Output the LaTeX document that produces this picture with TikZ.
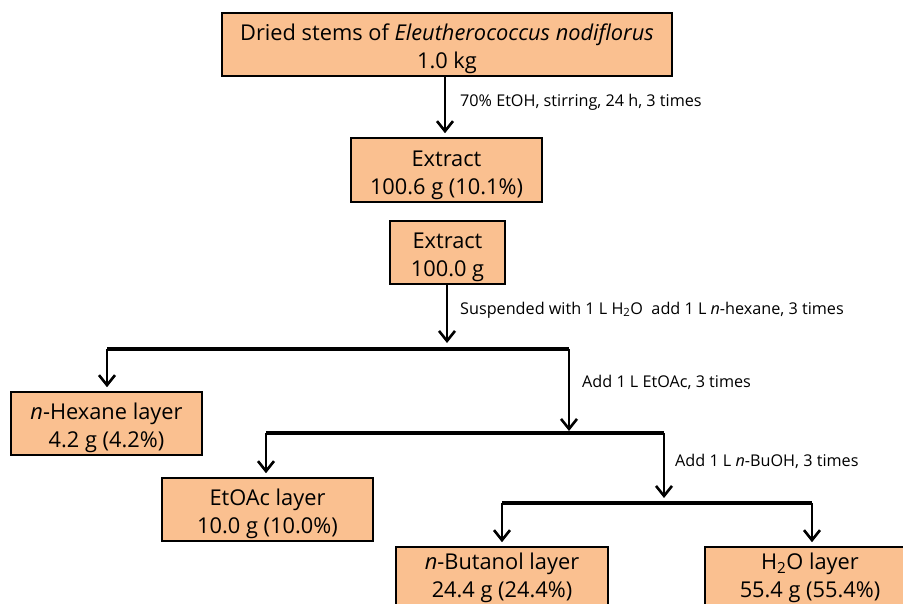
\documentclass[tikz,border=0pt]{standalone}
\usepackage{fontspec}
\setmainfont{Open Sans}
\usetikzlibrary{arrows.meta}
\definecolor{boxfill}{HTML}{FAC090}
\newcommand{\toprl}{\rule{0pt}{26.6pt}}
\newcommand{\toprlb}{\rule{0pt}{16.6pt}}
\newcommand{\botrl}{\rule[-6pt]{0pt}{6pt}}
\tikzset{
  stepbox/.style={draw=black, line width=1.6pt, fill=boxfill, align=center, inner sep=0pt,
    font=\fontsize{21.8}{28}\selectfont},
  flow/.style={line width=2.6pt, -{Straight Barb[length=10pt,width=16pt,line width=2.6pt]}},
  bar/.style={line width=3.4pt},
  note/.style={anchor=west, inner sep=0pt, font=\fontsize{16.2}{18}\selectfont}
}
\begin{document}
\begin{tikzpicture}[x=1pt,y=-1pt]
\useasboundingbox (0,0) rectangle (903,604);
\clip (0,0) rectangle (903,604);
\node[stepbox, minimum width=450pt, minimum height=63pt] (top) at (447,44.5)
  {\toprl Dried stems of \textit{Eleutherococcus nodiflorus}\\1.0 kg\botrl};
\node[stepbox, minimum width=191pt, minimum height=64pt] (ex1) at (446.5,170)
  {\toprl Extract\\100.6 g (10.1\%)\botrl};
\node[stepbox, minimum width=115pt, minimum height=63pt] (ex2) at (447.5,252.5)
  {\toprl Extract\\100.0 g\botrl};
\node[stepbox, minimum width=191pt, minimum height=63pt] (hex) at (106.5,423.5)
  {\toprl\textit{n}-Hexane layer\\4.2 g (4.2\%)\botrl};
\node[stepbox, minimum width=211pt, minimum height=63pt] (eto) at (267.5,509.5)
  {\toprl EtOAc layer\\10.0 g (10.0\%)\botrl};
\node[stepbox, minimum width=212pt, minimum height=63pt] (but) at (502,578.5)
  {\toprlb\textit{n}-Butanol layer\\24.4 g (24.4\%)\botrl};
\node[stepbox, minimum width=210pt, minimum height=63pt] (wat) at (810,578.5)
  {\toprlb H\textsubscript{2}O layer\\55.4 g (55.4\%)\botrl};

\coordinate (h1L) at (107,349);
\coordinate (h1M) at (447,349);
\coordinate (h1R) at (569,349);
\coordinate (h2L) at (266,433);
\coordinate (h2M) at (569,433);
\coordinate (h2R) at (664,433);
\coordinate (h3L) at (502,503);
\coordinate (h3M) at (664,503);
\coordinate (h3R) at (812,503);

\draw[flow, shorten >=4pt] (top.south -| 445,0) -- (ex1.north -| 445,0);
\draw[flow, shorten >=6pt] (ex2.south -| h1M) -- (h1M);
\draw[bar] (h1L) -- (h1R);
\draw[flow, shorten >=4pt] (h1L) -- (h1L |- hex.north);
\draw[flow, shorten >=2pt] (h1R) -- (h2M);
\draw[bar] (h2L) -- (h2R);
\draw[flow, shorten >=4pt] (h2L) -- (h2L |- eto.north);
\draw[flow, shorten >=5pt] (h2R) -- (h3M);
\draw[bar] (h3L) -- (h3R);
\draw[flow, shorten >=4pt] (h3L) -- (h3L |- but.north);
\draw[flow, shorten >=4pt] (h3R) -- (h3R |- wat.north);

\node[note] (n1) at (460,102) {70\% EtOH, stirring, 24 h, 3 times};
\node[note] (n2) at (460,310) {Suspended with 1 L H\textsubscript{2}O\ \ add 1 L \textit{n}-hexane, 3 times};
\node[note] (n3) at (582,382) {Add 1 L EtOAc, 3 times};
\node[note] (n4) at (675,461) {Add 1 L \textit{n}-BuOH, 3 times};
\end{tikzpicture}
\end{document}
